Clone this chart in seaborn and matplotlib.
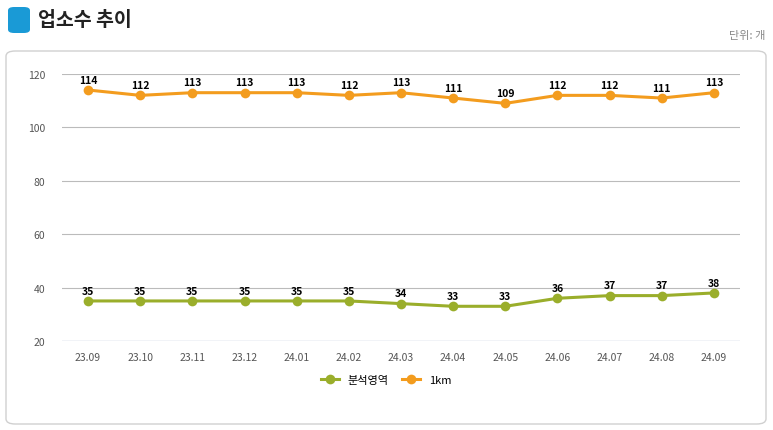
import matplotlib
matplotlib.use("Agg")
import matplotlib.pyplot as plt
import seaborn as sns
import pandas as pd
from matplotlib.patches import FancyBboxPatch
from matplotlib.lines import Line2D

months = ["23.09","23.10","23.11","23.12","24.01","24.02","24.03","24.04","24.05","24.06","24.07","24.08","24.09"]
area = [35,35,35,35,35,35,34,33,33,36,37,37,38]
km1 = [114,112,113,113,113,112,113,111,109,112,112,111,113]
yticks = [20,40,60,80,100,120]

plt.rcParams["font.family"] = ["Noto Sans CJK JP", "Noto Sans CJK KR", "Noto Sans CJK SC", "DejaVu Sans"]
W, H = 773, 431
fig = plt.figure(figsize=(W/100, H/100), dpi=100)
fig.patches.append(FancyBboxPatch((6/W, 6/H), 760/W, 373/H, boxstyle="round,pad=0,rounding_size=0.012",
                                  transform=fig.transFigure, fc="white", ec="#d0d0d0", lw=1, zorder=-5))
fig.patches.append(FancyBboxPatch((8/W, (H-34)/H), 22/W, 26/H, boxstyle="round,pad=0,rounding_size=0.008",
                                  transform=fig.transFigure, fc="#1a9ad6", ec="none", zorder=-5))
fig.text(38/W, 1-21/H, "업소수 추이", fontsize=14, fontweight="bold", va="center", color="#222")
fig.text(765/W, 1-36/H, "단위: 개", fontsize=8, ha="right", va="center", color="#888")

ax = fig.add_axes([62/W, 1-342/H, 678/W, 267/H])
ax.patch.set_alpha(0)
df = pd.DataFrame({"x": list(range(len(months)))*2, "y": area+km1,
                   "s": ["분석영역"]*len(months)+["1km"]*len(months)})
pal = {"분석영역": "#9aae2b", "1km": "#f39c1e"}
sns.lineplot(data=df, x="x", y="y", hue="s", palette=pal, marker="o", markersize=7,
             markeredgewidth=0, lw=2.2, ax=ax, legend=False)
for i in range(len(months)):
    ax.text(i, area[i]+2, str(area[i]), ha="center", va="bottom", fontsize=7.5, fontweight="bold")
    ax.text(i, km1[i]+2, str(km1[i]), ha="center", va="bottom", fontsize=7.5, fontweight="bold")
ax.set_xlim(-0.5, len(months)-0.5)
ax.set_ylim(20, 120)
ax.set_yticks(yticks)
ax.set_xticks(range(len(months)))
ax.set_xticklabels(months)
ax.tick_params(length=0, labelsize=7.5, colors="#555")
ax.tick_params(axis="y", pad=12)
ax.tick_params(axis="x", pad=8)
ax.grid(axis="y", color="#bbbbbb", lw=0.8)
ax.set_axisbelow(True)
for s in ax.spines.values():
    s.set_visible(False)
ax.axhline(20, color="#ccd6eb", lw=1)
ax.set_xlabel(""); ax.set_ylabel("")

h = [Line2D([], [], color=pal[k], marker="o", lw=2.2, markersize=7, markeredgewidth=0) for k in pal]
fig.legend(h, list(pal), loc="center", bbox_to_anchor=(386/W, 1-381/H), ncol=2, frameon=False,
           fontsize=8, handlelength=1.6, columnspacing=1.2)
fig.savefig("out.png", dpi=100)
